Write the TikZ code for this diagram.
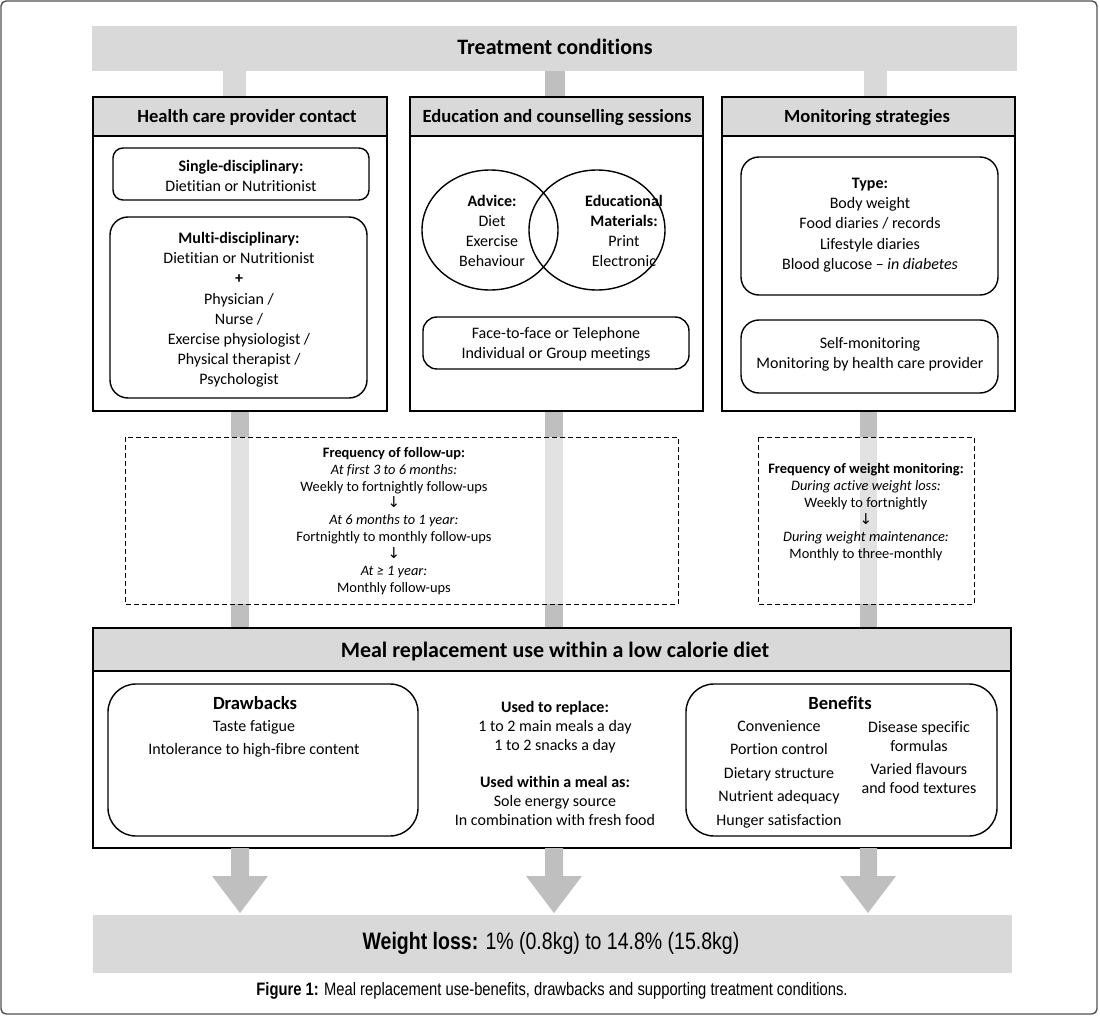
\documentclass[tikz,border=0pt]{standalone}
\usepackage{fontspec}
\setmainfont{Carlito}[Ligatures=NoCommon]
\newfontfamily\capfont[FakeStretch=0.82]{Liberation Sans}
\newfontfamily\symfont{DejaVu Sans}
\usepackage{tikz}
\definecolor{band}{HTML}{D9D9D9}
\definecolor{post}{HTML}{BFBFBF}
\definecolor{frame}{HTML}{505050}
\tikzset{
  panel/.style={draw=black, line width=0.8pt},
  head/.style={fill=band},
  rbox/.style={draw=black, line width=0.7pt, rounded corners=#1},
  freq/.style={draw=black, dash pattern=on 2.5pt off 1.5pt, line width=0.5pt, fill=white, fill opacity=0.55},
  txt/.style={align=center, inner sep=0pt, font=\fontsize{8}{10.1}\selectfont},
  small/.style={align=center, inner sep=0pt, font=\fontsize{7.2}{8.45}\selectfont},
  ttl/.style={inner sep=0pt, font=\fontsize{11}{13}\selectfont\bfseries},
  sub/.style={inner sep=0pt, font=\fontsize{9.3}{11}\selectfont\bfseries},
}
\newcommand{\dn}{{\symfont\fontsize{7.5}{8}\selectfont ↓}}

\begin{document}
\begin{tikzpicture}[x=0.5pt, y=-0.5pt]
  \useasboundingbox (0,0) rectangle (1100,1017);
  \draw[frame, line width=0.7pt, rounded corners=2.5pt] (1,1) rectangle (1097,1014);

  % top band and posts
  \fill[band] (92,26) rectangle (1017,71);
  \node[ttl] (treat) at (555,47) {Treatment conditions};
  \fill[band] (223,71) rectangle (246,97);
  \fill[post] (545,71) rectangle (565,97);
  \fill[band] (864,71) rectangle (887,97);

  % posts down to the meal box
  \fill[post] (231,411) rectangle (249,628);
  \fill[post] (545,411) rectangle (563,628);
  \fill[post] (860,411) rectangle (877,628);

  % frequency boxes
  \draw[freq] (125,437) rectangle (678,604);
  \draw[freq] (758,437) rectangle (974,604);

  % three condition panels
  \fill[head] (93,97) rectangle (387,136);
  \fill[head] (410,97) rectangle (703,136);
  \fill[head] (722,97) rectangle (1015,136);
  \draw[panel] (93,97) rectangle (387,411) (93,136) -- (387,136);
  \draw[panel] (410,97) rectangle (703,411) (410,136) -- (703,136);
  \draw[panel] (722,97) rectangle (1015,411) (722,136) -- (1015,136);
  \node[sub, anchor=base] (hcp) at (247,122) {Health care provider contact};
  \node[sub, anchor=base] (edu) at (557,122) {Education and counselling sessions};
  \node[sub, anchor=base] (mon) at (867,122) {Monitoring strategies};

  % health care provider contact
  \draw[rbox=5pt] (113,148) rectangle (369,200);
  \node[txt] (single) at (241,176) {\textbf{Single-disciplinary:}\\Dietitian or Nutritionist};
  \draw[rbox=9pt] (110,217) rectangle (367,398);
  \node[txt] (multi) at (239,310) {\textbf{Multi-disciplinary:}\\Dietitian or Nutritionist\\\textbf{+}\\Physician /\\Nurse /\\Exercise physiologist /\\Physical therapist /\\Psychologist};

  % education and counselling
  \draw[line width=0.7pt] (490,230) ellipse [x radius=34pt, y radius=30pt];
  \draw[line width=0.7pt] (597,230) ellipse [x radius=34pt, y radius=30pt];
  \node[txt] (advice) at (492,231) {\textbf{Advice:}\\Diet\\Exercise\\Behaviour};
  \node[txt] (material) at (624,231) {\textbf{Educational}\\\textbf{Materials:}\\Print\\Electronic};
  \draw[rbox=7pt] (423,317) rectangle (689,369);
  \node[txt] (mode) at (556,344) {Face-to-face or Telephone\\Individual or Group meetings};

  % monitoring strategies
  \draw[rbox=9pt] (741,157) rectangle (998,295);
  \node[txt] (type) at (870,225) {\textbf{Type:}\\Body weight\\Food diaries / records\\Lifestyle diaries\\Blood glucose -- \textit{in diabetes}};
  \draw[rbox=9pt] (741,320) rectangle (998,393);
  \node[txt] (self) at (870,354) {Self-monitoring\\Monitoring by health care provider};

  % frequency texts
  \node[small] (follow) at (394,521) {\textbf{Frequency of follow-up:}\\\textit{At first 3 to 6 months:}\\Weekly to fortnightly follow-ups\\\dn\\\textit{At 6 months to 1 year:}\\Fortnightly to monthly follow-ups\\\dn\\\textit{At ≥ 1 year:}\\Monthly follow-ups};
  \node[small] (weigh) at (866,512) {\textbf{Frequency of weight monitoring:}\\\textit{During active weight loss:}\\Weekly to fortnightly\\\dn\\\textit{During weight maintenance:}\\Monthly to three-monthly};

  % meal replacement box
  \fill[head] (93,628) rectangle (1011,671);
  \draw[panel] (93,628) rectangle (1011,848) (93,671) -- (1011,671);
  \node[inner sep=0pt, font=\fontsize{11}{13}\selectfont\bfseries] (meal) at (555,652) {Meal replacement use within a low calorie diet};
  \draw[rbox=14pt] (108,684) rectangle (418,836);
  \node[sub] (drawb) at (255,703) {Drawbacks};
  \node[txt, font=\fontsize{8}{11.6}\selectfont] (drawl) at (254,739) {Taste fatigue\\Intolerance to high-fibre content};
  \node[txt, font=\fontsize{8}{9.5}\selectfont] (replace) at (555,727) {\textbf{Used to replace:}\\1 to 2 main meals a day\\1 to 2 snacks a day};
  \node[txt, font=\fontsize{8}{9.5}\selectfont] (within) at (555,801) {\textbf{Used within a meal as:}\\Sole energy source\\In combination with fresh food};
  \draw[rbox=14pt] (686,684) rectangle (997,836);
  \node[sub] (benef) at (840,703) {Benefits};
  \node[txt, font=\fontsize{8}{11.75}\selectfont] (benl) at (779,774) {Convenience\\Portion control\\Dietary structure\\Nutrient adequacy\\Hunger satisfaction};
  \node[txt, font=\fontsize{8}{9.5}\selectfont] (benr1) at (919,737) {Disease specific\\formulas};
  \node[txt, font=\fontsize{8}{9.5}\selectfont] (benr2) at (919,779) {Varied flavours\\and food textures};

  % arrows to the outcome
  \fill[post] (231,848) -- (249,848) -- (249,876) -- (268,876) -- (240,913) -- (212,876) -- (231,876) -- cycle;
  \fill[post] (545,848) -- (563,848) -- (563,876) -- (582,876) -- (554,913) -- (526,876) -- (545,876) -- cycle;
  \fill[post] (860,848) -- (877,848) -- (877,876) -- (896,876) -- (868,913) -- (840,876) -- (860,876) -- cycle;

  % outcome
  \fill[band] (93,915) rectangle (1012,973);
  \node[inner sep=0pt, font=\capfont\fontsize{11.9}{13}\selectfont] (loss) at (551,943) {\textbf{Weight loss:} 1\% (0.8kg) to 14.8\% (15.8kg)};
  \node[inner sep=0pt, font=\capfont\fontsize{9}{10}\selectfont] (cap) at (552,991) {\textbf{Figure 1:} Meal replacement use-benefits, drawbacks and supporting treatment conditions.};
\end{tikzpicture}
\end{document}
